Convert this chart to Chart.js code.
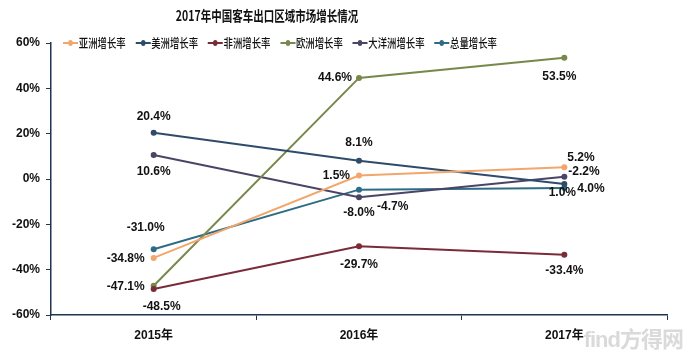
<!DOCTYPE html>
<html>
<head>
<meta charset="utf-8">
<script src="https://cdn.jsdelivr.net/npm/chart.js@4/dist/chart.umd.min.js"></script>
<style>
html,body{margin:0;padding:0;background:#fff;}
#wrap{position:relative;width:687px;height:355px;overflow:hidden;}
#title{position:absolute;left:0;top:6px;width:534px;text-align:center;font:bold 14px "Noto Sans CJK SC","Liberation Sans",sans-serif;color:#111;transform:scaleX(0.75);transform-origin:267px 0;white-space:nowrap;line-height:18px;}
#legend{position:absolute;left:63px;top:34px;display:flex;white-space:nowrap;transform:scaleX(0.75);transform-origin:0 0;font:500 12.5px "Noto Sans CJK SC","Liberation Sans",sans-serif;color:#111;line-height:17px;}
.item{display:flex;align-items:center;margin-right:13px;}
.mk{position:relative;width:20px;height:17px;margin-right:1px;}
.mk .ln{position:absolute;left:0;right:0;top:8px;height:2px;}
.mk .dt{position:absolute;left:7px;top:6px;width:6px;height:6px;border-radius:50%;}
#wm{position:absolute;right:4px;bottom:2px;font:bold 22px "Liberation Sans","Noto Sans CJK SC",sans-serif;color:#dadada;letter-spacing:-1px;}
canvas{position:absolute;left:0;top:0;}
</style>
</head>
<body>
<div id="wrap">
<canvas id="c" width="687" height="355"></canvas>
<div id="title"></div>
<div id="legend"></div>
<div id="wm">find方得网</div>
</div>
<script>
// ---- data ----
const chartTitle = '2017年中国客车出口区域市场增长情况';
const categories = ['2015年', '2016年', '2017年'];
const seriesNames = ['亚洲增长率', '美洲增长率', '非洲增长率', '欧洲增长率', '大洋洲增长率', '总量增长率'];
const asiaGrowth = [-34.8, 1.5, 5.2];
const americasGrowth = [20.4, 8.1, -2.2];
const africaGrowth = [-48.5, -29.7, -33.4];
const europeGrowth = [-47.1, 44.6, 53.5];
const oceaniaGrowth = [10.6, -8.0, 1.0];
const totalGrowth = [-31.0, -4.7, -4.0];
const yTickValues = [-60, -40, -20, 0, 20, 40, 60];
// label text as printed in the reference (the total's 2017 label lacks its minus sign)
const labelTextOverrides = { '5-2': '4.0%' };

// ---- styles ----
const colors = ['#F2A66C', '#2F4B6C', '#7A2B38', '#77894A', '#4A4466', '#2E6C86'];
const allSeries = [asiaGrowth, americasGrowth, africaGrowth, europeGrowth, oceaniaGrowth, totalGrowth];
// label placement per series / point: [dx, dy, align]
const labelPlacement = [
  [[-9, 1, 'right'], [-9, 0, 'right'], [3, -10, 'left']],
  [[0, -16, 'center'], [0, -18, 'center'], [4, -12, 'left']],
  [[8, 18, 'center'], [0, 18, 'center'], [0, 16, 'center']],
  [[-9, 1, 'right'], [-7, 0, 'right'], [-5, 19, 'center']],
  [[0, 17, 'center'], [0, 16, 'center'], [-2, 16, 'center']],
  [[-8, -22, 'center'], [18, 17, 'left'], [13, 1, 'left']]
];

document.getElementById('title').textContent = chartTitle;
const lg = document.getElementById('legend');
seriesNames.forEach((n, i) => {
  const it = document.createElement('div'); it.className = 'item';
  const mk = document.createElement('div'); mk.className = 'mk';
  const ln = document.createElement('div'); ln.className = 'ln'; ln.style.background = colors[i];
  const dt = document.createElement('div'); dt.className = 'dt'; dt.style.background = colors[i];
  mk.appendChild(ln); mk.appendChild(dt);
  const tx = document.createElement('span'); tx.textContent = n;
  it.appendChild(mk); it.appendChild(tx); lg.appendChild(it);
});

const labelPlugin = {
  id: 'pointLabels',
  afterDatasetsDraw(chart) {
    const ctx = chart.ctx;
    ctx.save();
    ctx.font = 'bold 12px "Liberation Sans", Arial, sans-serif';
    ctx.fillStyle = '#111';
    ctx.textBaseline = 'middle';
    chart.data.datasets.forEach((ds, di) => {
      const meta = chart.getDatasetMeta(di);
      meta.data.forEach((pt, pi) => {
        const v = ds.data[pi];
        const key = di + '-' + pi;
        const txt = labelTextOverrides[key] || (v.toFixed(1) + '%');
        const p = labelPlacement[di][pi];
        ctx.textAlign = p[2];
        ctx.fillText(txt, pt.x + p[0], pt.y + p[1]);
      });
    });
    ctx.restore();
  }
};

const axisColor = '#1F3550';
new Chart(document.getElementById('c'), {
  type: 'line',
  data: {
    labels: categories,
    datasets: allSeries.map((d, i) => ({
      label: seriesNames[i],
      data: d,
      borderColor: colors[i],
      backgroundColor: colors[i],
      borderWidth: 2,
      pointRadius: 3,
      pointBorderWidth: 0,
      pointHoverRadius: 3,
      tension: 0,
      fill: false
    }))
  },
  options: {
    responsive: false,
    animation: false,
    devicePixelRatio: 1,
    layout: { padding: { left: 0, right: 20, top: 43, bottom: 0 } },
    plugins: {
      legend: { display: false },
      title: { display: false },
      tooltip: { enabled: false }
    },
    scales: {
      x: {
        offset: true,
        grid: { offset: true, drawOnChartArea: false, drawTicks: true, tickLength: 5, color: axisColor, lineWidth: 1 },
        border: { color: axisColor, width: 1.5 },
        ticks: { color: '#111', padding: 8, font: { family: '"Liberation Sans", "Noto Sans CJK SC", sans-serif', size: 12, weight: 'bold' } },
        afterFit(s) { s.height = 40; }
      },
      y: {
        min: -60, max: 60,
        afterBuildTicks(s) { s.ticks = yTickValues.map(v => ({ value: v })); },
        grid: { drawOnChartArea: false, drawTicks: true, tickLength: 5, color: axisColor },
        border: { color: axisColor, width: 1.5 },
        ticks: { color: '#111', padding: 6, font: { family: '"Liberation Sans", Arial, sans-serif', size: 12, weight: 'bold' }, callback: v => v + '%' },
        afterFit(s) { s.width = 51; }
      }
    }
  },
  plugins: [labelPlugin]
});
</script>
</body>
</html>
